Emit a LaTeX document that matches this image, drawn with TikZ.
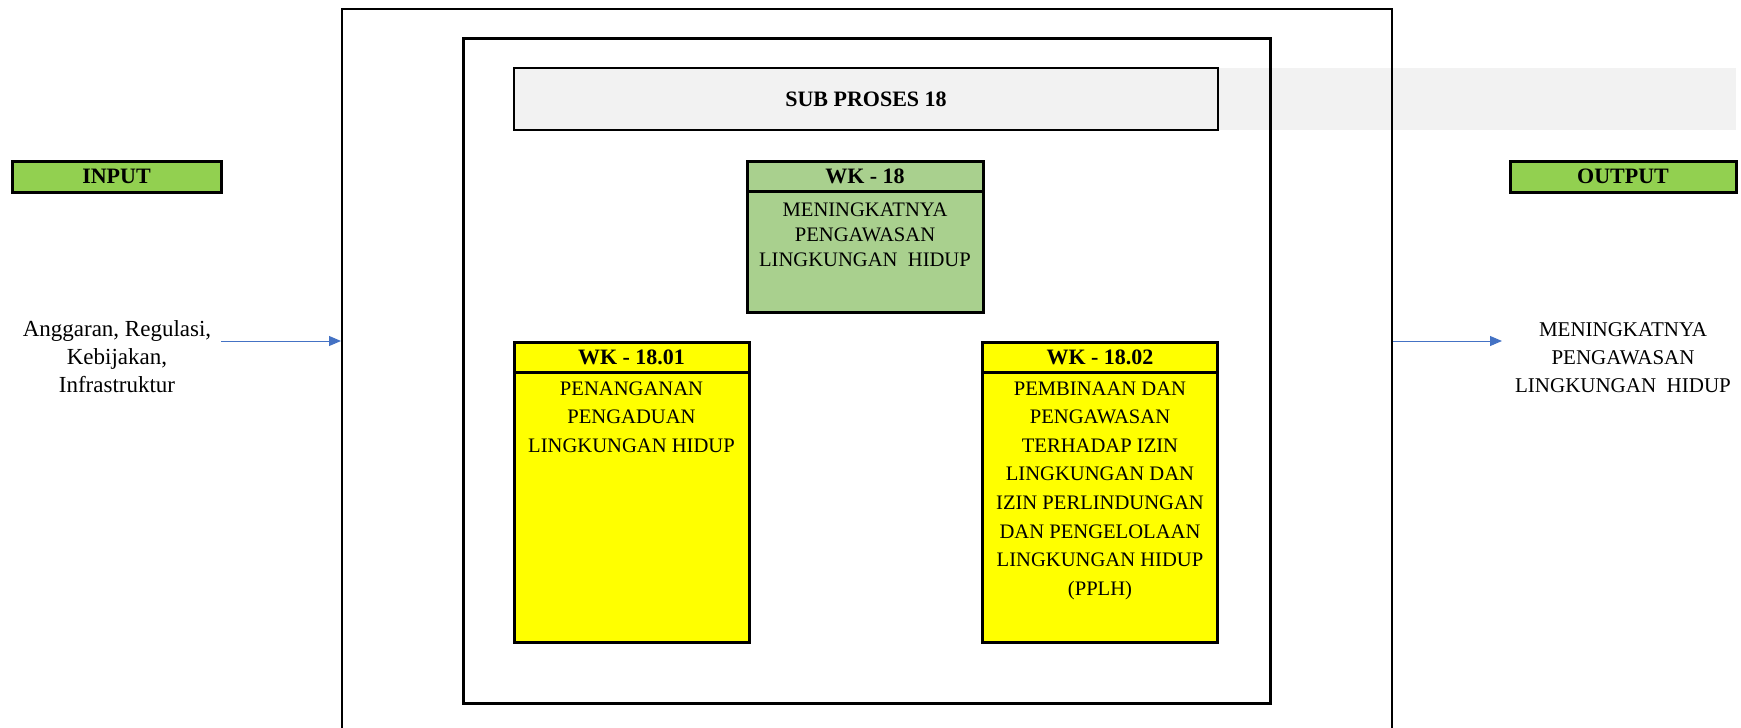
\documentclass[tikz,border=0pt]{standalone}
\usepackage{fontspec}
\setmainfont{Liberation Serif}
\usetikzlibrary{arrows.meta,positioning}

\definecolor{iogreen}{HTML}{92D050}
\definecolor{wkgreen}{HTML}{A9D08E}
\definecolor{wkyellow}{HTML}{FFFF00}
\definecolor{bandgrey}{HTML}{F2F2F2}
\definecolor{arrowblue}{HTML}{4472C4}

\begin{document}
\begin{tikzpicture}[x=0.5pt,y=-0.5pt]
  \tikzset{frame/.style = {draw, line width=1.2pt, inner sep=0pt}}
  \tikzset{iobox/.style = {draw, line width=1.5pt, fill=iogreen, minimum height=15.5pt, inner sep=0pt, font=\bfseries\fontsize{11}{13}\selectfont}}
  \tikzset{wkhead/.style = {draw, line width=1.5pt, minimum width=117.5pt, minimum height=15pt, inner sep=0pt, outer sep=0pt, font=\bfseries\fontsize{11}{13}\selectfont}}
  \tikzset{wkbody/.style = {draw, line width=1.5pt, minimum width=117.5pt, inner sep=0pt, outer sep=0pt, anchor=north}}
  \tikzset{wktext/.style = {align=center, inner sep=0pt, anchor=north, font=\fontsize{10.3}{14.3}\selectfont}}
  \tikzset{plain/.style = {align=center, inner sep=0pt, font=\fontsize{11.5}{14}\selectfont}}
  \tikzset{flow/.style = {-{Triangle[length=6pt,width=5pt]}, draw=arrowblue, line width=0.5pt}}

  \useasboundingbox (0,0) rectangle (1741,728);

  % grey band behind the title
  \fill[bandgrey] (514,68) rectangle (1736,130);

  % frames
  \node[frame, minimum width=525pt, minimum height=400pt, anchor=north west] (outer) at (341,8) {};
  \node[frame, line width=1.5pt, minimum width=403.5pt, minimum height=332.5pt, anchor=north west] (inner) at (462,37) {};

  \node[draw, line width=1.3pt, fill=bandgrey, minimum width=352pt, minimum height=31pt, font=\bfseries\fontsize{11}{13}\selectfont] (sub) at (866,99) {SUB PROSES 18};

  \node[iobox, minimum width=104.5pt] (input) at (116.5,176.5) {INPUT};
  \node[iobox, minimum width=113pt] (output) at (1623,176.5) {OUTPUT};

  % WK - 18
  \node[wkhead, fill=wkgreen, minimum width=118pt] (wk) at (865,176) {WK - 18};
  \node[wkbody, fill=wkgreen, minimum width=118pt, minimum height=60.5pt] (wkb) at (wk.south) {};
  \node[wktext, font=\fontsize{10.3}{12.5}\selectfont, below=5.5pt of wkb.north] (wkt) {MENINGKATNYA\\PENGAWASAN\\LINGKUNGAN~~HIDUP};

  % WK - 18.01
  \node[wkhead, fill=wkyellow] (wka) at (631.5,357) {WK - 18.01};
  \node[wkbody, fill=wkyellow, minimum height=135pt] (wkab) at (wka.south) {};
  \node[wktext, below=4.5pt of wkab.north] (wkat) {PENANGANAN\\PENGADUAN\\LINGKUNGAN HIDUP};

  % WK - 18.02
  \node[wkhead, fill=wkyellow] (wkc) at (1100,357) {WK - 18.02};
  \node[wkbody, fill=wkyellow, minimum height=135pt] (wkcb) at (wkc.south) {};
  \node[wktext, below=4.5pt of wkcb.north] (wkct) {PEMBINAAN DAN\\PENGAWASAN\\TERHADAP IZIN\\LINGKUNGAN DAN\\IZIN PERLINDUNGAN\\DAN PENGELOLAAN\\LINGKUNGAN HIDUP\\(PPLH)};

  % input / output
  \node[plain] (intext) at (117,357) {Anggaran, Regulasi,\\Kebijakan,\\Infrastruktur};
  \node[plain, font=\fontsize{10.5}{14}\selectfont] (outtext) at (1623,358) {MENINGKATNYA\\PENGAWASAN\\LINGKUNGAN~~HIDUP};

  \coordinate (inarr) at (221,341);
  \draw[flow] (inarr) -- (inarr -| outer.west);
  \coordinate (outarr) at (1502,341);
  \draw[flow] (outarr -| outer.east) -- (outarr);

\end{tikzpicture}
\end{document}
